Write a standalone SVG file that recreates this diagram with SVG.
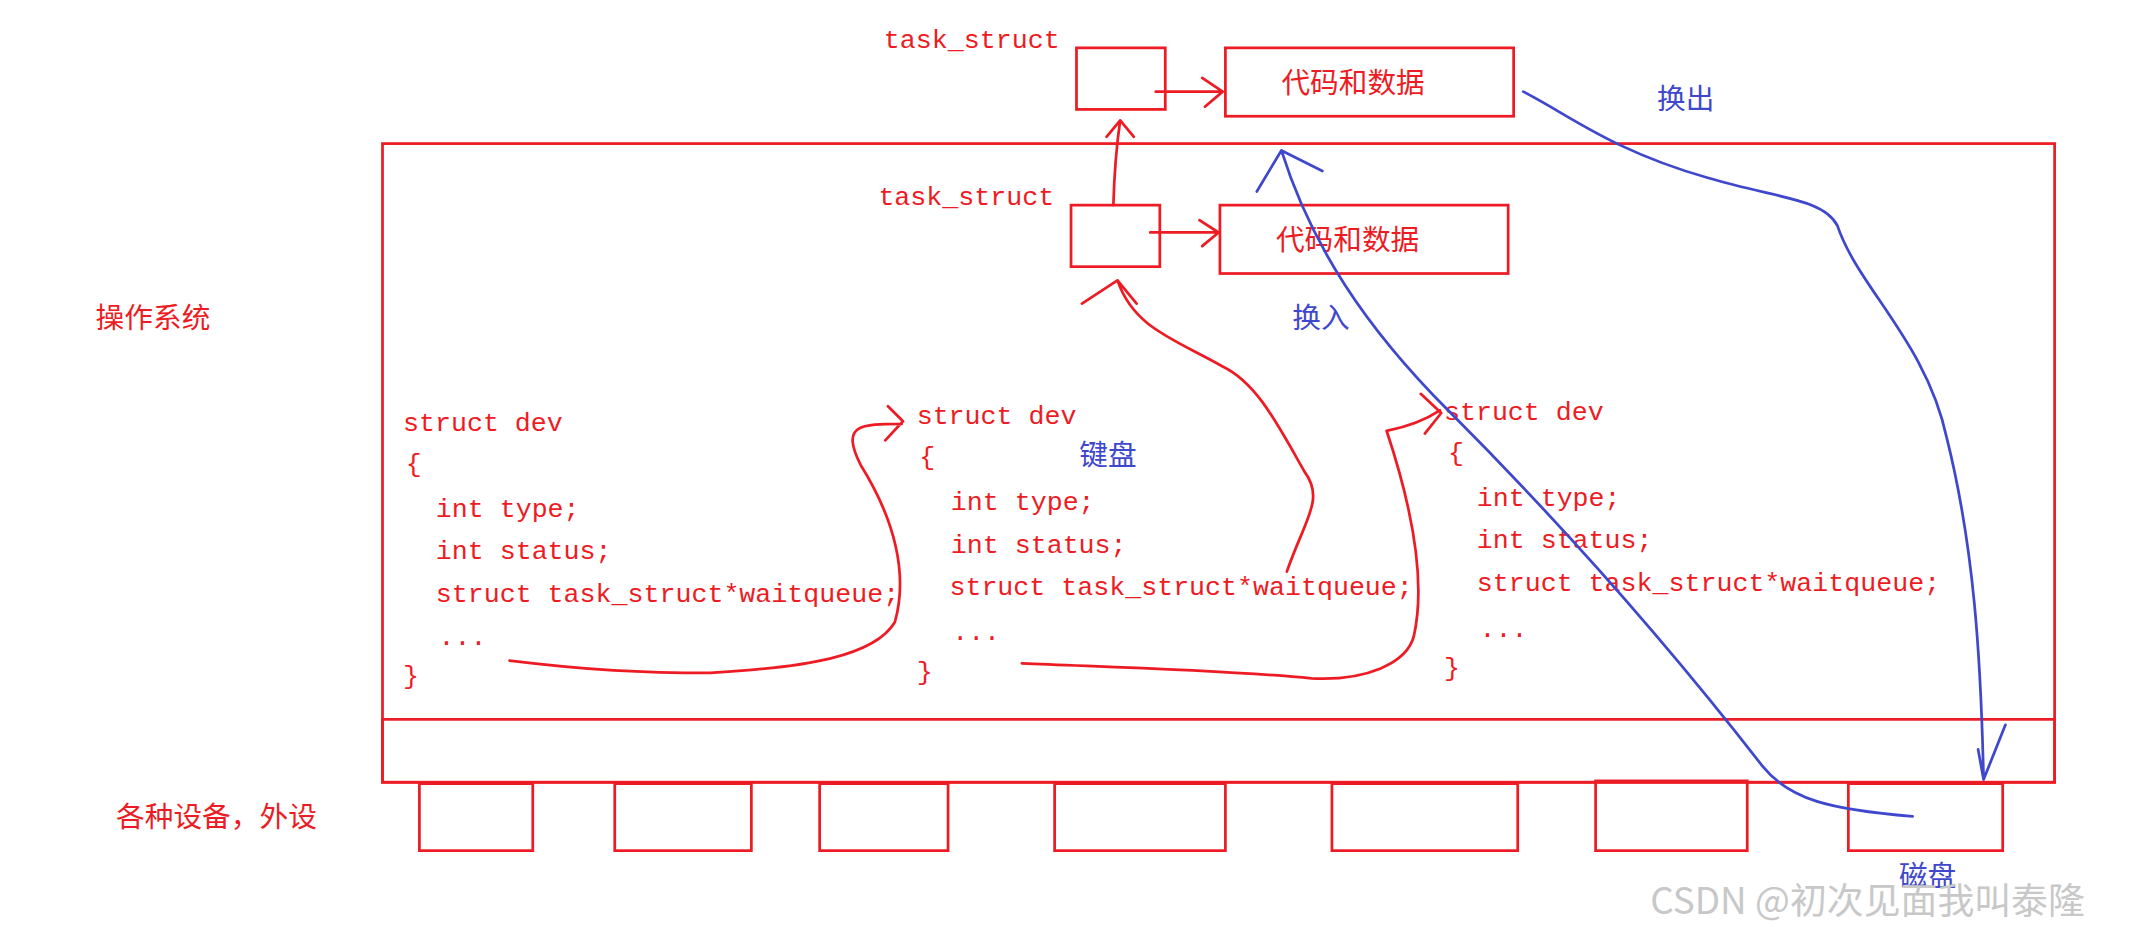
<svg xmlns="http://www.w3.org/2000/svg" width="2142" height="930" viewBox="0 0 2142 930">
<style>
.b{fill:none;stroke:#ed1c24;stroke-width:2}
.r{fill:none;stroke:#ed1c24;stroke-width:2;stroke-linecap:round;stroke-linejoin:round}
.u{fill:none;stroke:#3f48cc;stroke-width:2;stroke-linecap:round;stroke-linejoin:round}
.c{font-family:"Liberation Mono","Noto Sans CJK SC",monospace;font-size:19.5px;fill:#ed1c24}
.z{font-family:"Noto Sans CJK SC",sans-serif;font-size:21px;fill:#ed1c24}
.zb{font-family:"Noto Sans CJK SC",sans-serif;font-size:21px;fill:#3f48cc}
</style>
<rect width="2142" height="930" fill="#fff"/>
<g transform="scale(1.3661,1.3676)">
<g id="os"><rect class="b" x="280" y="105" width="1224" height="467"/><rect class="b" x="280" y="526" width="1224" height="46"/></g>
<g id="ts1"><text class="c" x="647" y="35">task_struct</text><rect class="b" x="788" y="35" width="65" height="45"/></g>
<g id="cd1"><rect class="b" x="897" y="35" width="211" height="50"/><text class="z" x="938" y="68">代码和数据</text></g>
<g id="ts2"><text class="c" x="643" y="150">task_struct</text><rect class="b" x="784" y="150" width="65" height="45"/></g>
<g id="cd2"><rect class="b" x="893" y="150" width="211" height="50"/><text class="z" x="934" y="183">代码和数据</text></g>
<g id="labels"><text class="z" x="70" y="240">操作系统</text><text class="z" x="85" y="605">各种设备，外设</text>
<text class="zb" x="1213" y="80">换出</text><text class="zb" x="946" y="240">换入</text><text class="zb" x="790" y="340">键盘</text><text class="zb" x="1390" y="648">磁盘</text>
<text x="1208" y="668" font-family="Noto Sans CJK SC,sans-serif" font-size="27" fill="#c8c8c8">CSDN @初次见面我叫泰隆</text></g>
<g id="dev1" class="c"><text x="295" y="315">struct dev</text><text x="297" y="345">{</text><text x="319" y="378">int type;</text><text x="319" y="409">int status;</text><text x="319" y="440">struct task_struct*waitqueue;</text><text x="321" y="472">...</text><text x="295" y="500">}</text></g>
<g id="dev2" class="c"><text x="671" y="310">struct dev</text><text x="673" y="340">{</text><text x="696" y="373">int type;</text><text x="696" y="404">int status;</text><text x="695" y="435">struct task_struct*waitqueue;</text><text x="697" y="468">...</text><text x="671" y="497">}</text></g>
<g id="dev3" class="c"><text x="1057" y="307">struct dev</text><text x="1060" y="337">{</text><text x="1081" y="370">int type;</text><text x="1081" y="401">int status;</text><text x="1081" y="432">struct task_struct*waitqueue;</text><text x="1083" y="466">...</text><text x="1057" y="494">}</text></g>
<g id="devices"><rect class="b" x="307" y="573" width="83" height="49"/><rect class="b" x="450" y="573" width="100" height="49"/><rect class="b" x="600" y="573" width="94" height="49"/><rect class="b" x="772" y="573" width="125" height="49"/><rect class="b" x="975" y="573" width="136" height="49"/><rect class="b" x="1168" y="571" width="111" height="51"/><rect class="b" x="1353" y="573" width="113" height="49"/></g>
<g id="connectors">
<path class="r" d="M846 67 L893 67 M880 57 L895 67 L882 78"/>
<path class="r" d="M842 170 L890 170 M878 161 L892 170 L880 180"/>
<path class="r" d="M815 150 Q816 115 820 88 M810 100 L820 88 L830 100"/>
<path class="r" d="M373 483 C430 490 470 492 520 492 C590 488 640 480 655 455 C665 420 655 380 630 340 C615 310 630 310 660 310 M650 297 L661 308 L648 322"/>
<path class="r" d="M748 485 C820 488 900 490 960 496 C1000 498 1030 485 1035 465 C1045 420 1030 360 1015 315 C1030 312 1045 306 1054 300 M1040 288 L1055 302 L1043 317"/>
<path class="r" d="M942 418 C955 380 970 365 955 345 C935 310 920 280 895 268 C860 248 830 240 818 205 M792 222 L818 205 L832 222"/>
<path class="u" d="M1115 67 C1150 85 1180 110 1250 130 C1300 145 1335 145 1345 165 C1360 210 1410 250 1425 320 C1445 400 1450 480 1452 570 M1448 548 L1452 570 L1468 530"/>
<path class="u" d="M1400 597 C1340 592 1310 585 1290 560 C1220 470 1140 380 1060 300 C1000 240 960 180 938 110 M920 140 L938 110 L968 125"/>
</g>
</g>
</svg>
